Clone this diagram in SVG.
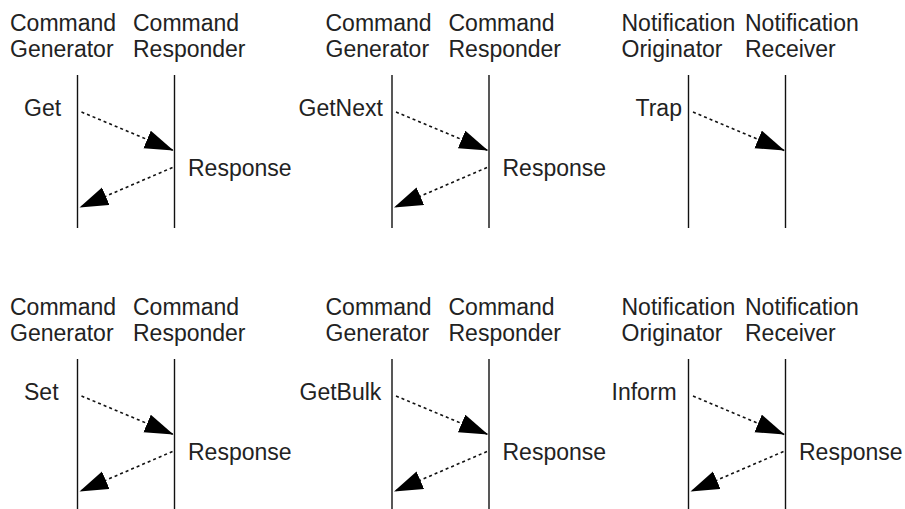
<svg xmlns="http://www.w3.org/2000/svg" width="905" height="509" viewBox="0 0 905 509">
<defs>
<style>
text{font-family:"Liberation Sans",Arial,sans-serif;font-size:23px;fill:#222}
.life{stroke:#111;stroke-width:1.4;fill:none}
.msg{stroke:#111;stroke-width:1.6;stroke-dasharray:3 3;fill:none}
</style>
<marker id="ah" markerUnits="userSpaceOnUse" markerWidth="30" markerHeight="20" refX="28.6" refY="9.5" orient="auto" viewBox="0 0 30 20">
<path d="M0,0 L28.6,9.5 L0,19 Z" fill="#000"/>
</marker>
</defs>
<rect width="905" height="509" fill="#fff"/>

<!-- Panel 1: Get -->
<g transform="translate(0,0)">
<g id="p1-generator"><text x="10" y="31">Command</text><text x="10" y="57">Generator</text><line class="life" x1="77.5" y1="75" x2="77.5" y2="228"/></g>
<g id="p1-responder"><text x="133" y="31">Command</text><text x="133" y="57">Responder</text><line class="life" x1="174.5" y1="75" x2="174.5" y2="228"/></g>
<g id="p1-label-get"><text x="24" y="116">Get</text></g>
<g id="p1-label-response"><text x="188" y="176">Response</text></g>
<g id="p1-connectors"><line class="msg" x1="81.5" y1="112" x2="173.5" y2="150.5" marker-end="url(#ah)"/><line class="msg" x1="172.5" y1="167.5" x2="79.5" y2="207.5" marker-end="url(#ah)"/></g>
</g>

<!-- Panel 2: GetNext -->
<g transform="translate(314.5,0)">
<g id="p2-generator"><text x="11" y="31">Command</text><text x="11" y="57">Generator</text><line class="life" x1="77.5" y1="75" x2="77.5" y2="228"/></g>
<g id="p2-responder"><text x="134" y="31">Command</text><text x="134" y="57">Responder</text><line class="life" x1="174.5" y1="75" x2="174.5" y2="228"/></g>
<g id="p2-label-getnext"><text x="-16" y="116">GetNext</text></g>
<g id="p2-label-response"><text x="188" y="176">Response</text></g>
<g id="p2-connectors"><line class="msg" x1="81.5" y1="112" x2="173.5" y2="150.5" marker-end="url(#ah)"/><line class="msg" x1="172.5" y1="167.5" x2="79.5" y2="207.5" marker-end="url(#ah)"/></g>
</g>

<!-- Panel 3: Trap -->
<g transform="translate(611,0)">
<g id="p3-originator"><text x="10.5" y="31">Notification</text><text x="10.5" y="57">Originator</text><line class="life" x1="77.5" y1="75" x2="77.5" y2="228"/></g>
<g id="p3-receiver"><text x="134" y="31">Notification</text><text x="134" y="57">Receiver</text><line class="life" x1="174.5" y1="75" x2="174.5" y2="228"/></g>
<g id="p3-label-trap"><text x="24.5" y="116">Trap</text></g>
<g id="p3-connectors"><line class="msg" x1="82" y1="112" x2="173.5" y2="150.5" marker-end="url(#ah)"/></g>
</g>

<!-- Panel 4: Set -->
<g transform="translate(0,284)">
<g id="p4-generator"><text x="10" y="31">Command</text><text x="10" y="57">Generator</text><line class="life" x1="77.5" y1="75" x2="77.5" y2="230"/></g>
<g id="p4-responder"><text x="133" y="31">Command</text><text x="133" y="57">Responder</text><line class="life" x1="174.5" y1="75" x2="174.5" y2="230"/></g>
<g id="p4-label-set"><text x="24" y="116">Set</text></g>
<g id="p4-label-response"><text x="188" y="176">Response</text></g>
<g id="p4-connectors"><line class="msg" x1="81.5" y1="112" x2="173.5" y2="150.5" marker-end="url(#ah)"/><line class="msg" x1="172.5" y1="167.5" x2="79.5" y2="207.5" marker-end="url(#ah)"/></g>
</g>

<!-- Panel 5: GetBulk -->
<g transform="translate(314.5,284)">
<g id="p5-generator"><text x="11" y="31">Command</text><text x="11" y="57">Generator</text><line class="life" x1="77.5" y1="75" x2="77.5" y2="230"/></g>
<g id="p5-responder"><text x="134" y="31">Command</text><text x="134" y="57">Responder</text><line class="life" x1="174.5" y1="75" x2="174.5" y2="230"/></g>
<g id="p5-label-getbulk"><text x="-15" y="116">GetBulk</text></g>
<g id="p5-label-response"><text x="188" y="176">Response</text></g>
<g id="p5-connectors"><line class="msg" x1="81.5" y1="112" x2="173.5" y2="150.5" marker-end="url(#ah)"/><line class="msg" x1="172.5" y1="167.5" x2="79.5" y2="207.5" marker-end="url(#ah)"/></g>
</g>

<!-- Panel 6: Inform -->
<g transform="translate(611,284)">
<g id="p6-originator"><text x="10.5" y="31">Notification</text><text x="10.5" y="57">Originator</text><line class="life" x1="77.5" y1="75" x2="77.5" y2="230"/></g>
<g id="p6-receiver"><text x="134" y="31">Notification</text><text x="134" y="57">Receiver</text><line class="life" x1="174.5" y1="75" x2="174.5" y2="230"/></g>
<g id="p6-label-inform"><text x="0.5" y="116">Inform</text></g>
<g id="p6-label-response"><text x="188" y="176">Response</text></g>
<g id="p6-connectors"><line class="msg" x1="82" y1="112" x2="173.5" y2="150.5" marker-end="url(#ah)"/><line class="msg" x1="172.5" y1="167.5" x2="79.5" y2="207.5" marker-end="url(#ah)"/></g>
</g>
</svg>
